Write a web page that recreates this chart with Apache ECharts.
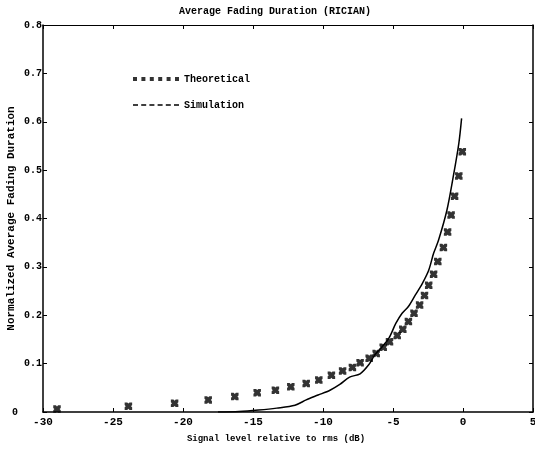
<!DOCTYPE html>
<html>
<head>
<meta charset="utf-8">
<script src="https://cdn.jsdelivr.net/npm/echarts@6/dist/echarts.min.js"></script>
<style>
  html, body { margin: 0; padding: 0; background: #fff; }
  #chart { width: 535px; height: 451px; }
</style>
</head>
<body>
<div id="chart"></div>
<script>
// theoretical points (dB, normalized duration)
var theoryX = [-29.0, -23.9, -20.6, -18.2, -16.3, -14.7, -13.4, -12.3, -11.2, -10.3, -9.4, -8.6, -7.9, -7.35, -6.7, -6.2, -5.7, -5.25, -4.7, -4.3, -3.9, -3.5, -3.1, -2.75, -2.45, -2.1, -1.8, -1.4, -1.1, -0.85, -0.6, -0.3, -0.05];
var theoryY = [0.006, 0.012, 0.018, 0.025, 0.032, 0.040, 0.045, 0.052, 0.059, 0.066, 0.076, 0.085, 0.092, 0.102, 0.111, 0.121, 0.134, 0.145, 0.158, 0.171, 0.187, 0.204, 0.221, 0.241, 0.262, 0.285, 0.311, 0.340, 0.372, 0.407, 0.446, 0.488, 0.538];
// simulation curve
var simX = [-17.5, -16, -14.6, -13.3, -12, -11.2, -10.35, -9.5, -8.8, -8.1, -7.35, -6.75, -6.3, -5.8, -5.3, -4.8, -4.35, -3.9, -3.4, -2.9, -2.45, -2.1, -1.75, -1.15, -0.7, -0.3, -0.1];
var simY = [0, 0.001, 0.004, 0.008, 0.014, 0.025, 0.035, 0.045, 0.057, 0.072, 0.079, 0.097, 0.118, 0.134, 0.152, 0.183, 0.204, 0.218, 0.242, 0.266, 0.293, 0.328, 0.355, 0.417, 0.486, 0.555, 0.607];
var xTicks = [-30, -25, -20, -15, -10, -5, 0, 5];
var yTicks = [0, 0.1, 0.2, 0.3, 0.4, 0.5, 0.6, 0.7, 0.8];

var font = "'Liberation Mono', 'DejaVu Sans Mono', monospace";
var myChart = echarts.init(document.getElementById("chart"));

function pairs(xs, ys) {
  return xs.map(function (x, i) { return [x, ys[i]]; });
}

// bold "x in a box" marker like the printout
var markPath = "path://M0,0L3.5,0L5,1.5L6.5,0L10,0L10,3.5L8.5,5L10,6.5L10,10L6.5,10L5,8.5L3.5,10L0,10L0,6.5L1.5,5L0,3.5Z";

var Option = {
  animation: false,
  backgroundColor: "#fff",
  title: {
    text: "Average Fading Duration (RICIAN)",
    left: 174,
    top: 1,
    textStyle: { fontFamily: font, fontSize: 10, fontWeight: "bold", color: "#000" }
  },
  grid: { left: 43, right: 2, top: 25, bottom: 39, outerBoundsMode: "none", containLabel: false },
  legend: {
    orient: "vertical",
    left: 128,
    top: 69,
    itemGap: 16,
    itemWidth: 46,
    itemHeight: 4,
    textStyle: { fontFamily: font, fontSize: 10, fontWeight: "bold", color: "#000" },
    data: [
      { name: "Theoretical", icon: "path://M0,0h4v4h-4z M8.4,0h4v4h-4z M16.8,0h4v4h-4z M25.2,0h4v4h-4z M33.6,0h4v4h-4z M42,0h4v4h-4z" },
      { name: "Simulation", icon: "path://M0,0h5v1.4h-5z M8.2,0h5v1.4h-5z M16.4,0h5v1.4h-5z M24.6,0h5v1.4h-5z M32.8,0h5v1.4h-5z M41,0h5v1.4h-5z" }
    ],
    itemStyle: { color: "#000" }
  },
  xAxis: [
    {
      type: "value",
      min: xTicks[0],
      max: xTicks[xTicks.length - 1],
      interval: 5,
      name: "Signal level relative to rms (dB)",
      nameLocation: "middle",
      nameGap: 22,
      nameMoveOverlap: false,
      nameTextStyle: { fontFamily: font, fontSize: 9, fontWeight: "bold", color: "#000", padding: [0, 24, 0, 0] },
      axisLine: { onZero: false, lineStyle: { color: "#000", width: 1.5 } },
      axisTick: { inside: true, length: 4, lineStyle: { color: "#000" } },
      axisLabel: { fontFamily: font, fontSize: 11, fontWeight: "bold", color: "#000", margin: 5 },
      splitLine: { show: false }
    },
    {
      type: "value",
      position: "top",
      min: xTicks[0],
      max: xTicks[xTicks.length - 1],
      interval: 5,
      axisLine: { onZero: false, lineStyle: { color: "#000", width: 1.2 } },
      axisTick: { inside: true, length: 4, lineStyle: { color: "#000" } },
      axisLabel: { show: false },
      splitLine: { show: false }
    }
  ],
  yAxis: [
    {
      type: "value",
      min: yTicks[0],
      max: yTicks[yTicks.length - 1],
      interval: 0.1,
      name: "Normalized Average Fading Duration",
      nameLocation: "middle",
      nameGap: 26,
      nameMoveOverlap: false,
      nameTextStyle: { fontFamily: font, fontSize: 11, fontWeight: "bold", color: "#000" },
      axisLine: { show: true, onZero: false, lineStyle: { color: "#000", width: 1.5 } },
      axisTick: { show: true, inside: true, length: 4, lineStyle: { color: "#000" } },
      axisLabel: {
        fontFamily: font, fontSize: 10, fontWeight: "bold", color: "#000", margin: 1,
        formatter: function (v) { return v === 0 ? "0\u00a0\u00a0\u00a0\u00a0" : v.toFixed(1); }
      },
      splitLine: { show: false }
    },
    {
      type: "value",
      position: "right",
      min: yTicks[0],
      max: yTicks[yTicks.length - 1],
      interval: 0.1,
      axisLine: { show: true, onZero: false, lineStyle: { color: "#000", width: 1.5 } },
      axisTick: { show: true, inside: true, length: 4, lineStyle: { color: "#000" } },
      axisLabel: { show: false },
      splitLine: { show: false }
    }
  ],
  series: [
    {
      name: "Theoretical",
      type: "scatter",
      symbol: markPath,
      symbolSize: 7.5,
      itemStyle: { color: "#000" },
      data: pairs(theoryX, theoryY)
    },
    {
      name: "Simulation",
      type: "line",
      smooth: 0.3,
      symbol: "none",
      lineStyle: { color: "#000", width: 1.5 },
      itemStyle: { color: "#000" },
      data: pairs(simX, simY)
    }
  ]
};
myChart.setOption(Option);
</script>
</body>
</html>
